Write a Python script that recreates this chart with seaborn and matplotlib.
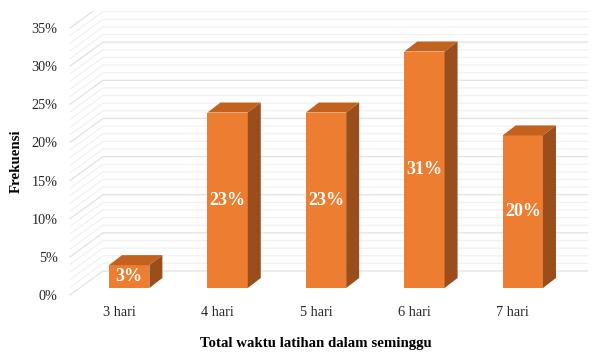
import numpy as np
import pandas as pd
import seaborn as sns
import matplotlib.pyplot as plt
from matplotlib.patches import Polygon, Rectangle
from matplotlib.lines import Line2D
from matplotlib.transforms import ScaledTranslation, IdentityTransform

# --- data -------------------------------------------------------------
categories = ["3 hari", "4 hari", "5 hari", "6 hari", "7 hari"]
frekuensi = [3, 23, 23, 31, 20]          # percent of respondents
y_ticks = [0, 5, 10, 15, 20, 25, 30, 35]
y_tick_labels = [f"{t}%" for t in y_ticks]
grid_levels = list(range(0, 36))          # 1 % minor steps
x_title = "Total waktu latihan dalam seminggu"
y_title = "Frekuensi"

# --- style --------------------------------------------------------------
DPI = 100
W, H = 593, 352
FRONT = "#ED7D31"
TOP = "#C3621F"
SIDE = "#9A4E1B"
GRID_MAJOR = "#E2E2E2"
GRID_MINOR = "#F1F1F1"
BAR_SHIFT = (10, 7)      # bar front plane relative to floor front (px)
BAR_DEPTH = (13, 10)     # bar depth (px)
WALL_DEPTH = (33, 24)    # back wall relative to floor front (px)
WALL_RIGHT = 588         # right end of back-wall grid lines (px)

sns.set_theme(style="white")
plt.rcParams["font.family"] = ["Liberation Serif", "DejaVu Serif"]

fig = plt.figure(figsize=(W / DPI, H / DPI), dpi=DPI)
fig.patch.set_facecolor("white")
ax = fig.add_axes([70 / W, 57 / H, 492 / W, 267 / H])

df = pd.DataFrame({"hari": categories, "frekuensi": frekuensi})
sns.barplot(data=df, x="hari", y="frekuensi", color=FRONT, width=0.41,
            saturation=1, linewidth=0, ax=ax, zorder=3)
ax.set_xlim(-0.5, len(categories) - 0.5)
ax.set_ylim(0, 35)

px = IdentityTransform()

# back wall + left wall grid lines
for v in grid_levels:
    fx, fy = ax.transData.transform((-0.5, v))
    bx, by = fx + WALL_DEPTH[0], fy + WALL_DEPTH[1]
    col = GRID_MAJOR if v % 5 == 0 else GRID_MINOR
    ln = Line2D([fx, bx, WALL_RIGHT], [fy, by, by], color=col, lw=0.9,
                transform=px, zorder=1)
    ax.add_artist(ln)
    ln.set_clip_path(Rectangle((0, 0), W, H - 11, transform=px))

# 3D bars: shift the front faces, then add top and side faces
front_tr = ax.transData + ScaledTranslation(BAR_SHIFT[0] / DPI, BAR_SHIFT[1] / DPI,
                                            fig.dpi_scale_trans)
dx, dy = BAR_DEPTH
for p in ax.patches[:len(categories)]:
    p.set_transform(front_tr)
    x0, w, h = p.get_x(), p.get_width(), p.get_height()
    (ax0, ay0), (ax1, ay1) = front_tr.transform([(x0, 0), (x0 + w, h)])
    top = Polygon([(ax0, ay1), (ax1, ay1), (ax1 + dx, ay1 + dy), (ax0 + dx, ay1 + dy)],
                  closed=True, facecolor=TOP, edgecolor="none", transform=px, zorder=3)
    side = Polygon([(ax1, ay0), (ax1, ay1), (ax1 + dx, ay1 + dy), (ax1 + dx, ay0 + dy)],
                   closed=True, facecolor=SIDE, edgecolor="none", transform=px, zorder=3)
    ax.add_artist(top)
    ax.add_artist(side)
    ax.text(x0 + w / 2, h / 2, f"{h:.0f}%", transform=front_tr, ha="center",
            va="center", color="white", fontsize=13, fontweight="bold", zorder=4)

ax.set_yticks(y_ticks, y_tick_labels)
ax.tick_params(axis="both", length=0, labelsize=10.3, colors="#262626")
ax.tick_params(axis="y", pad=9)
ax.tick_params(axis="x", pad=8)
ax.set_xlabel(x_title, fontsize=10.7, fontweight="bold", color="black", labelpad=13)
ax.set_ylabel(y_title, fontsize=10.7, fontweight="bold", color="black", labelpad=6)
ax.grid(False)
sns.despine(ax=ax, left=True, bottom=True)
ax.set_facecolor("none")

fig.savefig("out.png", dpi=DPI, facecolor="white")
